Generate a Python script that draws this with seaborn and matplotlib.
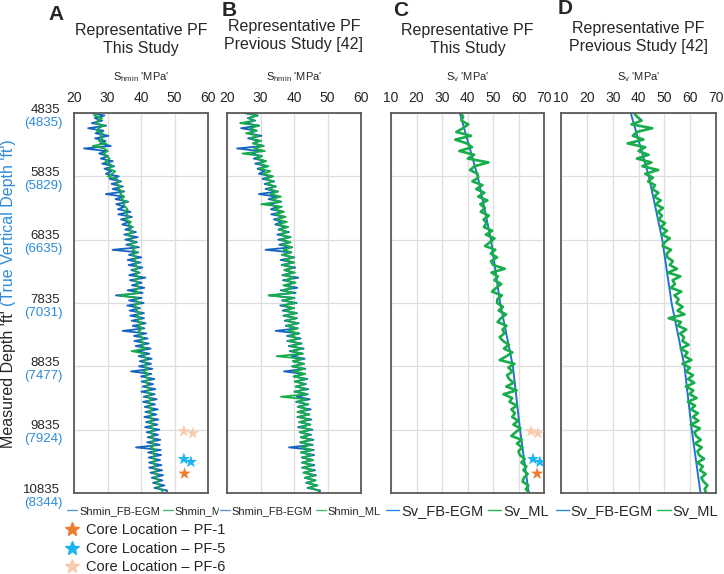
import numpy as np
import matplotlib
matplotlib.use("Agg")
import matplotlib.pyplot as plt
import matplotlib.transforms as mtransforms
from matplotlib.lines import Line2D
import seaborn as sns

# ------------------------------------------------------------------
# data
# ------------------------------------------------------------------
depth_shmin = np.arange(4835, 10836, 40)   # measured depth grid, ft
depth_sv = np.arange(4835, 10836, 60)

md_ticks = [4835, 5835, 6835, 7835, 8835, 9835, 10835]
tvd_labels = ["(4835)", "(5829)", "(6635)", "(7031)", "(7477)", "(7924)", "(8344)"]

shmin_fb_egm = [
    25.0, 29.1, 26.2, 28.4, 25.3, 29.6, 24.2, 28.8, 26.4, 30.3,
    26.3, 29.4, 27.8, 31.0, 23.0, 29.6, 27.5, 30.2, 28.0, 31.6,
    28.4, 32.0, 29.1, 31.2, 29.5, 33.4, 30.6, 34.1, 31.2, 34.6,
    31.5, 35.0, 29.5, 34.8, 32.4, 36.2, 32.6, 35.1, 33.1, 36.9,
    33.2, 37.3, 34.0, 36.4, 34.4, 37.6, 35.3, 38.5, 35.0, 39.0,
    35.3, 38.8, 35.6, 39.4, 31.5, 39.2, 36.4, 40.1, 36.0, 39.8,
    36.3, 40.4, 37.1, 39.6, 36.5, 41.3, 36.7, 40.2, 37.3, 41.0,
    36.0, 40.5, 32.5, 40.2, 36.4, 40.8, 35.9, 39.7, 36.6, 40.9,
    36.8, 40.9, 37.2, 41.4, 37.5, 41.0, 34.5, 41.6, 37.9, 42.0,
    38.0, 42.3, 38.4, 42.9, 38.7, 42.5, 39.3, 43.2, 39.6, 43.0,
    39.4, 43.4, 37.0, 43.1, 40.0, 44.0, 40.2, 43.6, 40.5, 44.3,
    40.1, 44.1, 40.8, 44.7, 40.6, 44.2, 41.1, 45.0, 41.3, 44.6,
    41.0, 45.2, 41.5, 44.9, 41.2, 45.5, 41.7, 45.1, 42.0, 45.8,
    41.8, 45.6, 38.5, 45.9, 42.1, 46.0, 42.3, 45.7, 42.4, 46.1,
    42.4, 46.3, 42.8, 46.6, 43.2, 46.4, 43.6, 47.0, 44.0, 47.8,
    47.5,
]

shmin_ml_this = [
    27.3, 26.0, 28.4, 27.1, 26.5, 28.9, 27.4, 26.8, 28.6, 27.9,
    28.5, 27.4, 29.6, 25.6, 29.0, 30.1, 28.8, 29.9, 30.6, 29.4,
    30.5, 31.6, 30.2, 32.3, 31.4, 30.1, 32.8, 33.4, 32.6, 33.9,
    33.2, 34.4, 33.8, 35.0, 34.1, 35.6, 34.7, 35.3, 36.0, 35.2,
    35.8, 36.4, 35.3, 37.0, 36.2, 37.4, 36.6, 37.6, 35.9, 37.3,
    37.0, 38.1, 36.6, 38.4, 37.5, 38.8, 37.4, 38.6, 37.9, 39.0,
    38.2, 39.3, 37.8, 39.1, 38.4, 39.6, 38.0, 39.2, 38.7, 39.5,
    38.1, 39.4, 33.6, 38.9, 38.3, 39.7, 37.9, 39.0, 38.6, 39.8,
    38.7, 39.9, 38.9, 40.2, 39.1, 40.4, 39.3, 40.0, 39.5, 40.7,
    39.8, 41.0, 40.1, 41.4, 37.2, 41.2, 40.6, 41.7, 40.8, 41.6,
    41.0, 42.0, 40.7, 42.2, 41.3, 42.5, 41.2, 42.1, 41.6, 42.7,
    41.7, 42.8, 41.9, 43.1, 42.0, 42.9, 42.3, 43.4, 42.2, 43.2,
    42.6, 43.5, 42.4, 43.7, 42.8, 43.9, 42.7, 43.6, 43.0, 44.0,
    43.1, 44.2, 42.9, 44.4, 43.3, 44.1, 43.5, 44.5, 43.4, 44.3,
    43.7, 44.7, 43.9, 45.0, 44.2, 45.3, 44.6, 45.7, 45.2, 46.3,
    46.6,
]

shmin_ml_prev = [
    25.8, 29.2, 26.5, 28.1, 23.9, 29.6, 26.8, 28.9, 25.7, 29.3,
    27.0, 30.2, 27.7, 30.8, 28.1, 31.3, 24.6, 30.5, 28.9, 31.6,
    29.3, 32.4, 29.8, 33.0, 30.6, 33.8, 31.4, 33.6, 31.8, 34.5,
    32.3, 35.3, 32.9, 36.1, 33.4, 35.8, 30.2, 36.4, 34.1, 37.0,
    34.3, 37.5, 34.8, 37.9, 35.2, 38.3, 35.6, 38.0, 35.9, 38.8,
    36.1, 39.0, 36.4, 39.5, 36.9, 39.2, 36.5, 39.8, 37.2, 40.1,
    36.6, 39.7, 37.1, 40.3, 36.9, 39.9, 37.4, 40.5, 36.8, 39.6,
    36.5, 39.8, 32.4, 40.0, 36.9, 40.4, 36.7, 40.1, 37.3, 40.6,
    37.2, 40.7, 37.6, 41.0, 37.9, 41.2, 38.3, 41.5, 38.6, 41.3,
    38.4, 42.0, 38.8, 42.4, 39.2, 42.7, 34.8, 42.5, 39.7, 43.0,
    39.5, 43.1, 40.0, 43.4, 39.8, 43.6, 40.3, 43.3, 40.6, 43.8,
    40.2, 44.0, 36.1, 43.7, 40.9, 44.3, 41.2, 44.1, 41.0, 44.6,
    41.3, 44.5, 41.6, 44.8, 41.9, 45.0, 41.7, 44.7, 42.1, 45.2,
    41.9, 45.1, 42.2, 45.5, 42.0, 45.3, 42.5, 45.6, 42.4, 45.4,
    42.6, 45.8, 42.9, 46.1, 43.3, 46.4, 43.8, 46.9, 44.4, 47.4,
    47.2,
]

sv_fb_depth = [4835, 5235, 5835, 6835, 7835, 8835, 9835, 10835]
sv_fb_egm = [37.0, 39.8, 44.0, 49.2, 52.8, 57.8, 60.6, 64.0]

sv_ml_this = [
    37.4, 38.3, 37.6, 40.3, 38.2, 35.6, 41.4, 35.2, 39.7, 41.8,
    36.8, 42.6, 40.1, 48.2, 42.8, 41.0, 43.9, 44.2, 41.9, 45.9,
    43.4, 46.6, 44.2, 47.8, 45.0, 46.8, 45.2, 48.4, 46.3, 47.5,
    46.4, 49.7, 47.2, 50.6, 48.8, 46.9, 50.9, 49.1, 51.6, 49.2,
    50.1, 54.6, 49.4, 51.9, 50.6, 53.2, 51.3, 49.6, 53.5, 51.7,
    51.6, 53.9, 52.2, 55.1, 53.1, 51.8, 55.3, 53.7, 54.5, 52.6,
    54.0, 56.2, 54.3, 57.6, 55.3, 52.6, 58.4, 56.0, 57.7, 55.5,
    56.3, 58.1, 55.2, 59.3, 54.1, 57.5, 56.5, 59.4, 57.2, 58.6,
    57.5, 59.9, 58.0, 60.8, 58.9, 57.2, 61.2, 59.4, 61.5, 60.0,
    60.5, 62.4, 61.1, 63.1, 61.9, 63.6, 62.1, 61.6, 63.9, 62.9,
    64.2,
]

sv_ml_prev = [
    38.2, 39.5, 41.2, 37.3, 45.3, 39.3, 37.8, 41.9, 35.8, 42.6,
    40.0, 43.9, 39.4, 45.0, 41.5, 47.6, 42.6, 45.6, 43.7, 46.4,
    45.3, 47.7, 46.0, 48.6, 46.6, 49.5, 47.5, 49.1, 47.8, 50.3,
    48.6, 51.0, 49.1, 52.1, 50.2, 49.3, 52.6, 50.9, 51.2, 53.3,
    52.1, 54.9, 51.4, 56.2, 53.2, 54.1, 52.5, 56.6, 53.9, 55.5,
    54.7, 57.1, 55.1, 57.8, 51.7, 56.4, 55.3, 58.5, 56.1, 57.6,
    57.0, 59.4, 56.3, 59.0, 57.8, 60.5, 57.0, 59.9, 58.4, 61.1,
    59.2, 61.6, 58.3, 61.2, 59.8, 62.5, 59.1, 61.9, 60.3, 63.0,
    61.0, 63.2, 60.2, 63.8, 61.6, 62.3, 64.1, 61.9, 64.5, 62.8,
    63.4, 65.4, 62.7, 64.9, 63.8, 66.0, 64.3, 65.2, 66.7, 65.6,
    66.2,
]

# core measurements (stars)
core_pf = ["PF-6", "PF-6", "PF-5", "PF-5", "PF-1"]
core_depth = [9860, 9892, 10300, 10345, 10530]
core_shmin = [52.8, 55.5, 52.8, 54.9, 53.0]
core_sv = [64.9, 67.6, 65.7, 68.4, 67.3]
core_colors = {"PF-1": "#ed7d31", "PF-5": "#1cb4f0", "PF-6": "#f8cbad"}

# ------------------------------------------------------------------
# styling
# ------------------------------------------------------------------
sns.set_style("white")
plt.rcParams["font.family"] = ["Liberation Sans", "DejaVu Sans"]
plt.rcParams["mathtext.fontset"] = "custom"
plt.rcParams["mathtext.rm"] = "Liberation Sans"

BLUE = "#1565c0"
GREEN = "#17ad4b"
SV_BLUE = "#2374cf"
TVD_BLUE = "#2e8bd8"
W, H = 724, 574

fig = plt.figure(figsize=(W / 100, H / 100), dpi=100)


def px_axes(left, right, top=113, bottom=493):
    return fig.add_axes([left / W, 1 - bottom / H, (right - left) / W, (bottom - top) / H])


axA = px_axes(74, 208)
axB = px_axes(227, 361)
axC = px_axes(391, 544)
axD = px_axes(561, 716)


def setup(ax, xlim, xticks, xlabel, title, title_y):
    ax.set_xlim(*xlim)
    ax.set_ylim(10835, 4835)
    ax.xaxis.tick_top()
    ax.set_xticks(xticks)
    ax.set_yticks(md_ticks)
    ax.tick_params(axis="x", length=0, pad=6, labelsize=10)
    ax.tick_params(axis="y", length=0, labelleft=False)
    ax.grid(True, color="#dedede", lw=0.9)
    ax.set_axisbelow(True)
    for s in ax.spines.values():
        s.set_color("#5a5a5a")
        s.set_linewidth(1.3)
    ax.set_xlabel("")
    ax.set_ylabel("")
    ax.text(0.5, 1 + 33 / 380, xlabel, transform=ax.transAxes, ha="center",
            va="baseline", fontsize=8)
    ax.text(0.5, 1 + (113 - title_y) / 380, title, transform=ax.transAxes,
            ha="center", va="center", fontsize=11.5, linespacing=1.25)


# ---- Shmin panels ----
for ax, ml in [(axA, shmin_ml_this), (axB, shmin_ml_prev)]:
    sns.lineplot(x=shmin_fb_egm, y=depth_shmin, orient="y", estimator=None, sort=False,
                 color=BLUE, lw=1.3, ax=ax)
    sns.lineplot(x=ml, y=depth_shmin, orient="y", estimator=None, sort=False,
                 color=GREEN, lw=1.3, ax=ax)

# ---- Sv panels ----
for ax, ml in [(axC, sv_ml_this), (axD, sv_ml_prev)]:
    sns.lineplot(x=sv_fb_egm, y=sv_fb_depth, orient="y", estimator=None, sort=False,
                 color=SV_BLUE, lw=1.4, ax=ax)
    sns.lineplot(x=ml, y=depth_sv, orient="y", estimator=None, sort=False,
                 color=GREEN, lw=1.9, ax=ax)

# core stars
for ax, xs in [(axA, core_shmin), (axC, core_sv)]:
    sns.scatterplot(x=xs, y=core_depth, hue=core_pf, palette=core_colors, marker="*",
                    s=90, linewidth=0, legend=False, ax=ax, zorder=5)

setup(axA, (20, 60), [20, 30, 40, 50, 60], r"S$_{\mathregular{hmin}}$ 'MPa'",
      "Representative PF\nThis Study", 40)
setup(axB, (20, 60), [20, 30, 40, 50, 60], r"S$_{\mathregular{hmin}}$ 'MPa'",
      "Representative PF\nPrevious Study [42]", 36)
setup(axC, (10, 70), [10, 20, 30, 40, 50, 60, 70], r"S$_{\mathregular{v}}$ 'MPa'",
      "Representative PF\nThis Study", 40)
setup(axD, (10, 70), [10, 20, 30, 40, 50, 60, 70], r"S$_{\mathregular{v}}$ 'MPa'",
      "Representative PF\nPrevious Study [42]", 37)

# depth labels (MD black, TVD blue)
trans = mtransforms.blended_transform_factory(axA.transAxes, axA.transData)
for d, tvd in zip(md_ticks, tvd_labels):
    axA.annotate(str(d), xy=(0, d), xycoords=trans, xytext=(-10, 2.5),
                 textcoords="offset points", ha="right", va="center", fontsize=9.5)
    axA.annotate(tvd, xy=(0, d), xycoords=trans, xytext=(-8, -7),
                 textcoords="offset points", ha="right", va="center", fontsize=9.5,
                 color=TVD_BLUE)

# panel letters
for letter, x, y in [("A", 56, 15), ("B", 229, 10), ("C", 401, 11), ("D", 565, 9)]:
    fig.text(x / W, 1 - y / H, letter, fontsize=15, fontweight="bold",
             ha="center", va="center")


# series legends under each panel
def series_legend(ax, labels, colors, xc, fs, cover=False):
    handles = [Line2D([], [], color=c, lw=1.0) for c in colors]
    leg = ax.legend(handles, labels, loc="center", bbox_to_anchor=(xc, -18 / 380),
                    ncol=2, frameon=cover, fontsize=fs, handlelength=0.9,
                    handletextpad=0.15, columnspacing=0.3, borderpad=0.1,
                    borderaxespad=0)
    if cover:
        leg.get_frame().set_facecolor("white")
        leg.get_frame().set_edgecolor("white")
        leg.get_frame().set_alpha(1)


series_legend(axA, ["Shmin_FB-EGM", "Shmin_ML"], ["#5b9bd5", "#3fbf6f"], 0.55, 8)
series_legend(axB, ["Shmin_FB-EGM", "Shmin_ML"], ["#5b9bd5", "#3fbf6f"], 0.545, 8, cover=True)
series_legend(axC, ["Sv_FB-EGM", "Sv_ML"], ["#2e86de", "#1fb45a"], 0.50, 10.5)
series_legend(axD, ["Sv_FB-EGM", "Sv_ML"], ["#2e86de", "#1fb45a"], 0.49, 10.5)

# core legend
core_handles = [Line2D([], [], marker="*", ls="", color=core_colors[k], ms=10)
                for k in ["PF-1", "PF-5", "PF-6"]]
fig.legend(core_handles,
           ["Core Location \u2013 PF-1", "Core Location \u2013 PF-5", "Core Location \u2013 PF-6"],
           loc="upper left", bbox_to_anchor=(66 / W, 1 - 523 / H), frameon=False,
           fontsize=10.5, handlelength=0.8, handletextpad=0.6, labelspacing=0.32,
           borderpad=0, borderaxespad=0)

# two-colour rotated y label
fig.canvas.draw()
renderer = fig.canvas.get_renderer()
t1 = fig.text(9 / W, 1 - 448 / H, "Measured Depth 'ft' ", rotation=90, ha="center",
              va="bottom", fontsize=11.5)
bb = t1.get_window_extent(renderer=renderer)
fig.text(9 / W, bb.y1 / H, "(True Vertical Depth 'ft')", rotation=90, ha="center",
         va="bottom", fontsize=11.5, color=TVD_BLUE)

fig.savefig("out.png", dpi=100)
